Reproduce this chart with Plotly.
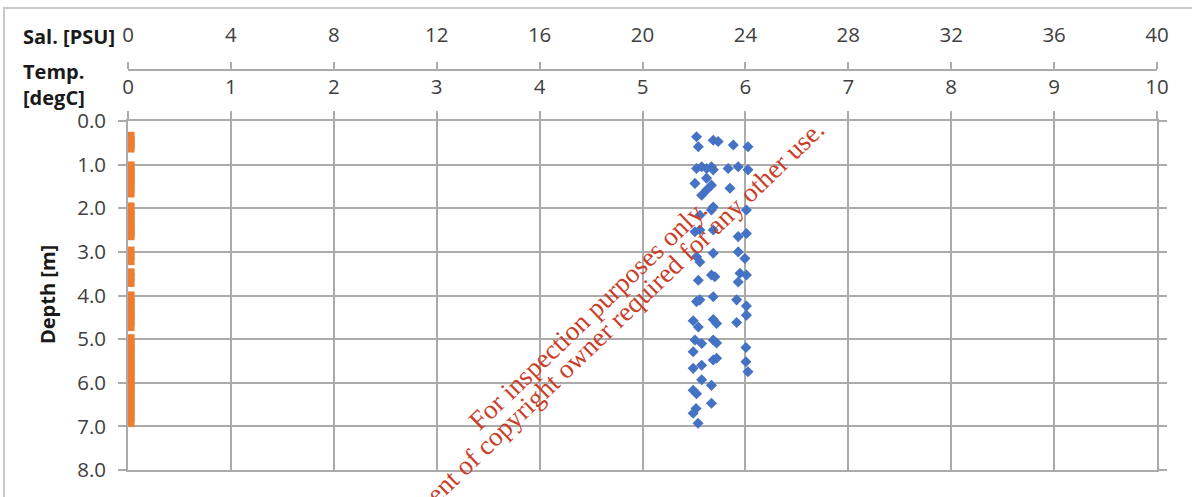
import plotly.graph_objects as go

# ---- Data -------------------------------------------------------------
# Temperature profile [degC] vs depth [m]
temp_depth = [0.35, 0.45, 0.55, 0.62,
              1.03, 1.13, 1.23, 1.33, 1.43, 1.53, 1.65,
              1.97, 2.07, 2.17, 2.27, 2.37, 2.47, 2.57, 2.63,
              2.98, 3.08, 3.20,
              3.48, 3.58, 3.70,
              4.01, 4.11, 4.21, 4.31, 4.41, 4.51, 4.61, 4.71,
              4.99, 5.09, 5.19, 5.29, 5.39, 5.49, 5.59, 5.69, 5.79, 5.89,
              5.99, 6.09, 6.19, 6.29, 6.39, 6.49, 6.59, 6.69, 6.79, 6.91]
temp_value = [0.02] * len(temp_depth)

# Salinity samples [PSU] vs depth [m]
sal_depth = [0.36, 0.59, 0.44, 0.47, 0.55, 0.59,
             1.09, 1.05, 1.09, 1.05, 1.12, 1.09, 1.05, 1.12,
             1.43, 1.31, 1.47, 1.58, 1.70, 1.54, 1.97,
             2.04, 2.16, 2.04, 2.54, 2.50, 2.50, 2.65, 2.58,
             3.11, 3.23, 3.03, 3.00, 3.15, 3.65, 3.53, 3.57, 3.69, 3.49, 3.53,
             4.14, 4.10, 4.03, 4.10, 4.24, 4.45, 4.58, 4.72, 4.55, 4.64, 4.62,
             5.02, 5.10, 5.02, 5.09, 5.29, 5.19, 5.52, 5.75, 5.67, 5.60, 5.48, 5.44,
             5.93, 6.06, 6.17, 6.25, 6.47, 6.59, 6.70, 6.93]
sal_value = [22.10, 22.17, 22.75, 22.94, 23.53, 24.10,
             22.10, 22.30, 22.49, 22.68, 22.75, 23.33, 23.72, 24.10,
             22.04, 22.49, 22.68, 22.49, 22.30, 23.40, 22.75,
             22.68, 22.23, 24.04, 22.04, 22.23, 22.75, 23.72, 24.04,
             22.10, 22.23, 22.75, 23.72, 23.98, 22.17, 22.68, 22.81, 23.72, 23.79, 24.04,
             22.10, 22.23, 22.75, 23.66, 24.04, 24.04, 21.97, 22.17, 22.75, 22.88, 23.66,
             22.04, 22.30, 22.75, 22.88, 21.97, 24.02, 24.02, 24.10, 21.97, 22.30, 22.75, 22.88,
             22.30, 22.68, 21.97, 22.10, 22.68, 22.08, 21.97, 22.16]

# Axis ticks
temp_ticks = list(range(0, 11))
sal_ticks = list(range(0, 41, 4))
depth_ticks = [0, 1, 2, 3, 4, 5, 6, 7, 8]

# ---- Figure geometry (pixels) -----------------------------------------
W, H = 1192, 497
ML, MR, MT, MB = 128, 35, 70, 27
PLOT_W = W - ML - MR
PLOT_H = H - MT - MB
DEPTH_TOP_PX = 121  # pixel row of the depth-axis top (0.0 m)


def px_x(px):
    return (px - ML) / PLOT_W


def px_y(py):
    return (H - MB - py) / PLOT_H


GRID = "#ababab"
TICK_FONT = dict(family="Open Sans", size=20.5, color="#404040")
LABEL_FONT = dict(family="Open Sans", size=20, color="#1a1a1a")

fig = go.Figure()

fig.add_trace(go.Scatter(
    x=temp_value, y=temp_depth, mode="markers", name="Temp.",
    marker=dict(symbol="square", size=9, color="#ed7d31", line=dict(width=0)),
    xaxis="x", yaxis="y",
))
fig.add_trace(go.Scatter(
    x=sal_value, y=sal_depth, mode="markers", name="Sal.",
    marker=dict(symbol="diamond", size=8.5, color="#4472c4", line=dict(width=0)),
    xaxis="x2", yaxis="y",
))

fig.update_layout(
    width=W, height=H,
    margin=dict(l=ML, r=MR, t=MT, b=MB, pad=0),
    paper_bgcolor="white", plot_bgcolor="white",
    showlegend=False,
    xaxis=dict(
        range=[0, 10], tickvals=temp_ticks, side="top", anchor="y",
        ticks="outside", ticklen=8, tickcolor=GRID, tickwidth=1.6,
        showgrid=True, gridcolor=GRID, gridwidth=1.6,
        showline=True, linecolor=GRID, linewidth=1.6, mirror=True,
        zeroline=False, tickfont=TICK_FONT, ticklabelstandoff=9,
    ),
    xaxis2=dict(
        range=[0, 40], tickvals=sal_ticks, side="top", overlaying="x",
        anchor="free", position=1.0,
        ticks="outside", ticklen=7, tickcolor=GRID, tickwidth=1.6,
        showgrid=False, showline=True, linecolor=GRID, linewidth=1.6,
        zeroline=False, tickfont=TICK_FONT, ticklabelstandoff=12,
    ),
    yaxis=dict(
        range=[8, 0], tickvals=depth_ticks, tickformat=".1f",
        domain=[0, px_y(DEPTH_TOP_PX)], anchor="x",
        ticks="outside", ticklen=8, tickcolor=GRID, tickwidth=1.6,
        showgrid=True, gridcolor=GRID, gridwidth=1.6,
        showline=True, linecolor=GRID, linewidth=1.6, mirror="allticks",
        zeroline=False, tickfont=TICK_FONT, ticklabelstandoff=8,
    ),
)

# Chart frame
fig.add_shape(type="rect", xref="paper", yref="paper",
              x0=px_x(4), x1=px_x(1210), y0=px_y(520), y1=px_y(8),
              line=dict(color="#c8c8c8", width=2), layer="below")

# Axis labels
fig.add_annotation(text="<b>Sal. [PSU]</b>", xref="paper", yref="paper",
                   x=px_x(21), y=px_y(37), xanchor="left", yanchor="middle",
                   showarrow=False, font=LABEL_FONT)
fig.add_annotation(text="<b>Temp.</b><br><b>[degC]</b>", xref="paper", yref="paper",
                   x=px_x(21), y=px_y(85), xanchor="left", yanchor="middle",
                   align="left", showarrow=False, font=LABEL_FONT)
fig.add_annotation(text="<b>Depth [m]</b>", xref="paper", yref="paper",
                   x=px_x(47), y=px_y(295), textangle=-90,
                   xanchor="center", yanchor="middle",
                   showarrow=False, font=LABEL_FONT)

# Diagonal notice
NOTE_FONT = dict(family="Liberation Serif", size=27, color="#c9402a")
NOTE_ANGLE = -43.8
fig.add_annotation(text="For inspection purposes only.", xref="paper", yref="paper",
                   x=px_x(588), y=px_y(315), textangle=NOTE_ANGLE,
                   xanchor="center", yanchor="middle", showarrow=False, font=NOTE_FONT)
fig.add_annotation(text="Consent of copyright owner required for any other use.",
                   xref="paper", yref="paper",
                   x=px_x(605), y=px_y(331), textangle=NOTE_ANGLE,
                   xanchor="center", yanchor="middle", showarrow=False, font=NOTE_FONT)

fig.write_html("out.html")
